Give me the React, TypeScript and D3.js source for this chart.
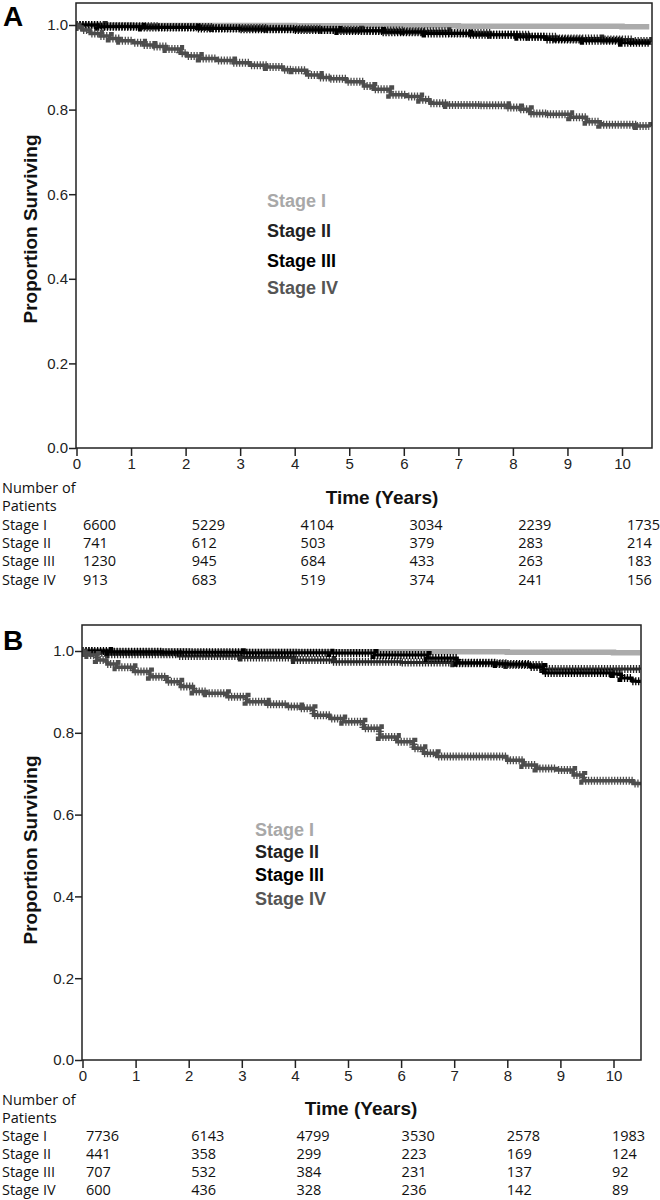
import React, { useEffect, useRef } from 'react';
import * as d3 from 'd3';

// ---------- data ----------
const stageNames = ['Stage I', 'Stage II', 'Stage III', 'Stage IV'];
const xTicks = [0, 1, 2, 3, 4, 5, 6, 7, 8, 9, 10];
const yTicks = [0, 0.2, 0.4, 0.6, 0.8, 1.0];
const riskTimes = [0, 2, 4, 6, 8, 10];

// Panel A number at risk
const riskA_I = [6600, 5229, 4104, 3034, 2239, 1735];
const riskA_II = [741, 612, 503, 379, 283, 214];
const riskA_III = [1230, 945, 684, 433, 263, 183];
const riskA_IV = [913, 683, 519, 374, 241, 156];

// Panel B number at risk
const riskB_I = [7736, 6143, 4799, 3530, 2578, 1983];
const riskB_II = [441, 358, 299, 223, 169, 124];
const riskB_III = [707, 532, 384, 231, 137, 92];
const riskB_IV = [600, 436, 328, 236, 142, 89];

// Panel A survival curves (time in years, proportion surviving)
const timeA_I = [0, 1, 2, 3, 4, 5, 6, 7, 8, 9, 10, 10.5];
const survA_I = [1, 0.999, 0.999, 0.999, 0.998, 0.998, 0.998, 0.997, 0.997, 0.997, 0.996, 0.996];
const timeA_II = [0, 0.5, 1.5, 2.5, 3.5, 4.5, 5.2, 6.0, 6.8, 7.6, 8.3, 8.8, 9.6, 10.2, 10.5];
const survA_II = [1, 0.997, 0.995, 0.993, 0.991, 0.989, 0.987, 0.985, 0.981, 0.977, 0.972, 0.968, 0.966, 0.962, 0.958];
const timeA_III = [0, 0.4, 1.2, 2.2, 3.0, 4.0, 4.8, 5.6, 6.4, 7.2, 8.1, 8.6, 9.3, 10.0, 10.5];
const survA_III = [1, 0.996, 0.994, 0.992, 0.99, 0.988, 0.986, 0.983, 0.98, 0.977, 0.972, 0.966, 0.963, 0.958, 0.954];
const timeA_IV = [0, 0.03, 0.1, 0.25, 0.43, 0.61, 0.8, 1.04, 1.22, 1.41, 1.65, 1.9, 2.02, 2.26, 2.57, 2.87, 3.18, 3.49, 3.79, 3.96, 4.22, 4.46, 4.65, 4.95, 5.26, 5.44, 5.75, 6.05, 6.3, 6.48, 6.79, 7.4, 7.89, 8.13, 8.31, 8.62, 9.05, 9.35, 9.6, 9.96, 10.27, 10.5];
const survA_IV = [1, 0.995, 0.988, 0.98, 0.974, 0.968, 0.963, 0.958, 0.953, 0.949, 0.943, 0.933, 0.927, 0.921, 0.916, 0.911, 0.905, 0.901, 0.894, 0.893, 0.882, 0.876, 0.873, 0.866, 0.856, 0.848, 0.835, 0.831, 0.823, 0.815, 0.811, 0.81, 0.805, 0.801, 0.791, 0.789, 0.782, 0.771, 0.764, 0.764, 0.761, 0.758];

// Panel B survival curves
const timeB_I = [0, 2, 4, 6, 8, 10, 10.5];
const survB_I = [1, 0.999, 0.998, 0.998, 0.997, 0.996, 0.996];
const timeB_II = [0, 0.2, 0.5, 1.8, 3.0, 4.0, 4.7, 6.0, 7.0, 8.0, 8.68, 10.5];
const survB_II = [1, 0.996, 0.992, 0.988, 0.984, 0.978, 0.974, 0.972, 0.97, 0.966, 0.956, 0.954];
const timeB_III = [0, 0.5, 1.5, 3.0, 4.67, 5.5, 6.5, 7.06, 7.8, 8.43, 8.68, 9.5, 10.0, 10.15, 10.35, 10.5];
const survB_III = [1, 0.998, 0.997, 0.996, 0.995, 0.99, 0.983, 0.971, 0.968, 0.961, 0.946, 0.946, 0.944, 0.934, 0.926, 0.922];
const timeB_IV = [0, 0.04, 0.11, 0.27, 0.46, 0.64, 0.96, 1.27, 1.59, 1.84, 2.09, 2.34, 2.72, 3.09, 3.47, 3.85, 4.1, 4.35, 4.66, 4.91, 5.29, 5.6, 5.92, 6.23, 6.42, 6.67, 7.8, 7.99, 8.3, 8.55, 8.93, 9.24, 9.43, 10.18, 10.37, 10.5];
const survB_IV = [1, 0.995, 0.99, 0.978, 0.968, 0.96, 0.95, 0.937, 0.925, 0.913, 0.901, 0.897, 0.888, 0.876, 0.87, 0.864, 0.86, 0.843, 0.835, 0.827, 0.811, 0.79, 0.778, 0.762, 0.75, 0.742, 0.742, 0.733, 0.721, 0.713, 0.709, 0.697, 0.683, 0.683, 0.676, 0.672];

// ---------- styles / layout ----------
const curveStyle = [
  { color: '#ababab', width: 5.5, ticks: false },
  { color: '#2a2a2a', width: 3, ticks: true },
  { color: '#000000', width: 3, ticks: true },
  { color: '#4d4d4d', width: 3.5, ticks: true },
];
const legendColors = ['#a8a8a8', '#222222', '#000000', '#555555'];

const panels = [
  {
    letter: 'A', letterY: 26,
    frame: { l: 76, r: 652, t: 3, b: 448 },
    xr: [76.5, 622], yr: [448, 25],
    yLabelY: 229, xLabelX: 382, xLabelY: 504,
    legendX: 267, legendY: [207, 237, 267, 294],
    tableY: 493, rowH: 18.3, tableX: [83, 627],
    times: [timeA_I, timeA_II, timeA_III, timeA_IV],
    surv: [survA_I, survA_II, survA_III, survA_IV],
    risk: [riskA_I, riskA_II, riskA_III, riskA_IV],
  },
  {
    letter: 'B', letterY: 650,
    frame: { l: 82, r: 641, t: 625, b: 1060 },
    xr: [82.5, 613.5], yr: [1060, 651],
    yLabelY: 850, xLabelX: 361, xLabelY: 1115,
    legendX: 255, legendY: [836, 858, 881, 905],
    tableY: 1105, rowH: 17.9, tableX: [86, 612],
    times: [timeB_I, timeB_II, timeB_III, timeB_IV],
    surv: [survB_I, survB_II, survB_III, survB_IV],
    risk: [riskB_I, riskB_II, riskB_III, riskB_IV],
  },
];

const AX = 'Arial, "Liberation Sans", Helvetica, sans-serif';
const TB = '"Open Sans", "Noto Sans", sans-serif';

export default function App() {
  const ref = useRef<SVGSVGElement>(null);
  useEffect(() => {
    const svg = d3.select(ref.current);
    svg.selectAll('*').remove();
    panels.forEach((p, pi) => {
      const g = svg.append('g');
      const x = d3.scaleLinear().domain([0, 10]).range(p.xr);
      const y = d3.scaleLinear().domain([0, 1]).range(p.yr);
      const clipId = 'clip' + pi;
      svg.append('defs').append('clipPath').attr('id', clipId)
        .append('rect').attr('x', p.frame.l).attr('y', p.frame.t)
        .attr('width', p.frame.r - p.frame.l).attr('height', p.frame.b - p.frame.t);

      // curves
      const line = d3.line<[number, number]>()
        .x(d => x(d[0])).y(d => y(d[1])).curve(d3.curveStepAfter);
      const cg = g.append('g').attr('clip-path', `url(#${clipId})`);
      p.times.forEach((ts, si) => {
        const pts: [number, number][] = ts.map((t, i) => [t, p.surv[si][i]]);
        const st = curveStyle[si];
        cg.append('path').attr('d', line(pts)).attr('fill', 'none')
          .attr('stroke', st.color).attr('stroke-width', st.width);
        if (st.ticks) {
          cg.append('path').attr('d', line(pts)).attr('fill', 'none')
            .attr('stroke', st.color).attr('stroke-width', 8)
            .attr('stroke-dasharray', '1.3 1.6');
        }
      });

      // frame
      g.append('rect').attr('x', p.frame.l).attr('y', p.frame.t)
        .attr('width', p.frame.r - p.frame.l).attr('height', p.frame.b - p.frame.t)
        .attr('fill', 'none').attr('stroke', '#222').attr('stroke-width', 1.5);

      // axes
      const ya = g.append('g').attr('transform', `translate(${p.frame.l},0)`)
        .call(d3.axisLeft(y).tickValues(yTicks).tickSize(7).tickPadding(1).tickFormat(d3.format('.1f')));
      const xa = g.append('g').attr('transform', `translate(0,${p.frame.b})`)
        .call(d3.axisBottom(x).tickValues(xTicks).tickSize(8).tickPadding(2).tickFormat(d3.format('d')));
      [ya, xa].forEach(a => {
        a.select('.domain').remove();
        a.selectAll('line').attr('stroke', '#222').attr('stroke-width', 1.5);
        a.selectAll('text').attr('font-family', AX).attr('font-size', 15).attr('fill', '#222');
      });

      // labels
      g.append('text').attr('x', 3).attr('y', p.letterY).text(p.letter)
        .attr('font-family', AX).attr('font-weight', 'bold').attr('font-size', 28).attr('fill', '#000');
      g.append('text').attr('transform', `translate(37,${p.yLabelY}) rotate(-90)`)
        .attr('text-anchor', 'middle').text('Proportion Surviving')
        .attr('font-family', AX).attr('font-weight', 'bold').attr('font-size', 19).attr('fill', '#111');
      g.append('text').attr('x', p.xLabelX).attr('y', p.xLabelY).attr('text-anchor', 'middle')
        .text('Time (Years)').attr('font-family', AX).attr('font-weight', 'bold')
        .attr('font-size', 19).attr('fill', '#111');

      // legend
      stageNames.forEach((n, si) => {
        g.append('text').attr('x', p.legendX).attr('y', p.legendY[si]).text(n)
          .attr('font-family', AX).attr('font-weight', 'bold').attr('font-size', 18)
          .attr('fill', legendColors[si]);
      });

      // risk table
      const tx = d3.scaleLinear().domain([0, 10]).range(p.tableX);
      const tt = (s: string, xx: number, yy: number) =>
        g.append('text').attr('x', xx).attr('y', yy).text(s)
          .attr('font-family', TB).attr('font-size', 14.5).attr('fill', '#111');
      tt('Number of', 2, p.tableY);
      tt('Patients', 2, p.tableY + p.rowH);
      stageNames.forEach((n, si) => {
        const yy = p.tableY + p.rowH * (si + 2);
        tt(n, 2, yy);
        riskTimes.forEach((t, i) => tt(String(p.risk[si][i]), tx(t), yy));
      });
    });
  }, []);
  return (
    <svg ref={ref} width={660} height={1200}
      style={{ position: 'absolute', left: 0, top: 0, background: '#fff' }} />
  );
}
